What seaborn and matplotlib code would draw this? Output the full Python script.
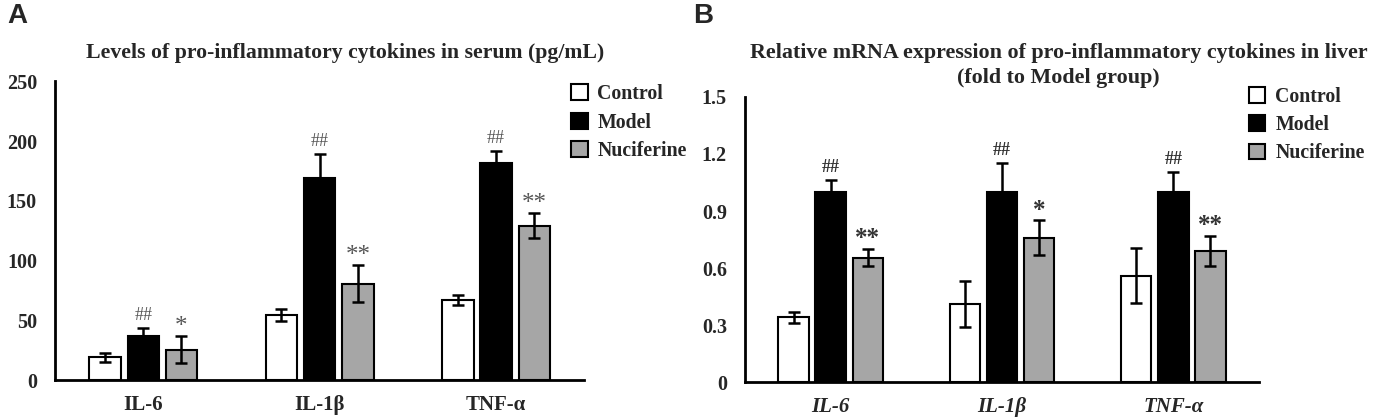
import pandas as pd
import matplotlib.pyplot as plt
from matplotlib.patches import Patch
import seaborn as sns

cytokines = ['IL-6', 'IL-1β', 'TNF-α']
groups = ['Control', 'Model', 'Nuciferine']
colors = {'Control': 'white', 'Model': 'black', 'Nuciferine': '#a6a6a6'}

# serum levels (pg/mL)
serum_control = [19, 54.5, 67]
serum_model = [36.5, 169.5, 181.5]
serum_nuc = [25.5, 80.5, 129]
serum_control_err = [3.5, 5, 4]
serum_model_err = [7, 20, 10]
serum_nuc_err = [11, 15.5, 10.5]
serum_marks_model = ['##', '##', '##']
serum_marks_nuc = ['*', '**', '**']

# relative mRNA (fold to Model group)
mrna_control = [0.34, 0.41, 0.56]
mrna_model = [1.0, 1.0, 1.0]
mrna_nuc = [0.655, 0.76, 0.69]
mrna_control_err = [0.03, 0.12, 0.145]
mrna_model_err = [0.063, 0.153, 0.104]
mrna_nuc_err = [0.047, 0.092, 0.08]
mrna_marks_model = ['##', '##', '##']
mrna_marks_nuc = ['**', '*', '**']

sns.set_style('white')
plt.rcParams['font.family'] = ['Liberation Serif', 'DejaVu Serif']
plt.rcParams['font.weight'] = 'bold'

fig = plt.figure(figsize=(13.75, 4.17), dpi=100)
axA = fig.add_axes([0.040, 0.0887, 0.385, 0.716])
axB = fig.add_axes([0.5418, 0.0839, 0.3738, 0.6835])


def draw_panel(ax, means, errs, marks, ymax, ystep, italic, mark_weight, mark_color):
    df = pd.DataFrame({
        'cytokine': cytokines * 3,
        'group': [g for g in groups for _ in cytokines],
        'value': means[0] + means[1] + means[2],
    })
    sns.barplot(data=df, x='cytokine', y='value', hue='group', order=cytokines,
                hue_order=groups, palette=colors, edgecolor='black', linewidth=1.5,
                width=0.65, gap=0.18, errorbar=None, legend=False, ax=ax)
    for cont, err, mk in zip(ax.containers, errs, marks):
        xs = [b.get_x() + b.get_width() / 2 for b in cont]
        hs = [b.get_height() for b in cont]
        ax.errorbar(xs, hs, yerr=err, fmt='none', ecolor='black',
                    elinewidth=1.8, capsize=4, capthick=1.8)
        if mk is None:
            continue
        for x, h, e, m in zip(xs, hs, err, mk):
            size = 13 if m.startswith('#') else 18
            off = 3 if m.startswith('#') else -1
            ax.annotate(m, (x, h + e), xytext=(0, off), textcoords='offset points',
                        ha='center', va='bottom', fontsize=size,
                        fontweight=mark_weight, color=mark_color)
    ax.set_xlim(-0.5, 2.5)
    ax.set_ylim(0, ymax)
    ticks = [round(i * ystep, 2) for i in range(int(round(ymax / ystep)) + 1)]
    ax.set_yticks(ticks)
    ax.set_yticklabels([('%g' % t) for t in ticks])
    ax.set_xlabel('')
    ax.set_ylabel('')
    sns.despine(ax=ax)
    for s in ['left', 'bottom']:
        ax.spines[s].set_color('black')
        ax.spines[s].set_linewidth(2)
    ax.tick_params(axis='both', length=0)
    ax.tick_params(axis='y', pad=13, labelsize=14.5)
    ax.tick_params(axis='x', pad=11, labelsize=15)
    for lab in ax.get_xticklabels():
        lab.set_fontweight('bold')
        if italic:
            lab.set_fontstyle('italic')
    for lab in ax.get_yticklabels():
        lab.set_fontweight('bold')


draw_panel(axA, [serum_control, serum_model, serum_nuc],
           [serum_control_err, serum_model_err, serum_nuc_err],
           [None, serum_marks_model, serum_marks_nuc], 250, 50, False, 'normal', '#555555')
draw_panel(axB, [mrna_control, mrna_model, mrna_nuc],
           [mrna_control_err, mrna_model_err, mrna_nuc_err],
           [None, mrna_marks_model, mrna_marks_nuc], 1.5, 0.3, True, 'bold', '#333333')

handles = [Patch(facecolor=colors[g], edgecolor='black', linewidth=1.5, label=g) for g in groups]
leg_kw = dict(frameon=False, loc='upper left', borderpad=0, borderaxespad=0,
              handlelength=0.85, handleheight=0.85, handletextpad=0.5, labelspacing=0.42,
              prop={'family': 'Liberation Serif', 'weight': 'bold', 'size': 14.3})
fig.legend(handles=handles, bbox_to_anchor=(0.415, 0.798), **leg_kw)
fig.legend(handles=handles, bbox_to_anchor=(0.908, 0.792), **leg_kw)

fig.text(0.251, 0.873, 'Levels of pro-inflammatory cytokines in serum (pg/mL)',
         ha='center', va='center', fontsize=15.7, fontweight='bold')
fig.text(0.770, 0.873, 'Relative mRNA expression of pro-inflammatory cytokines in liver',
         ha='center', va='center', fontsize=15.8, fontweight='bold')
fig.text(0.770, 0.813, '(fold to Model group)',
         ha='center', va='center', fontsize=15.8, fontweight='bold')

fig.text(0.005, 0.962, 'A', ha='left', va='center', fontsize=20, fontweight='bold',
         family='Liberation Sans')
fig.text(0.504, 0.962, 'B', ha='left', va='center', fontsize=20, fontweight='bold',
         family='Liberation Sans')

fig.savefig('out.png', dpi=100)
